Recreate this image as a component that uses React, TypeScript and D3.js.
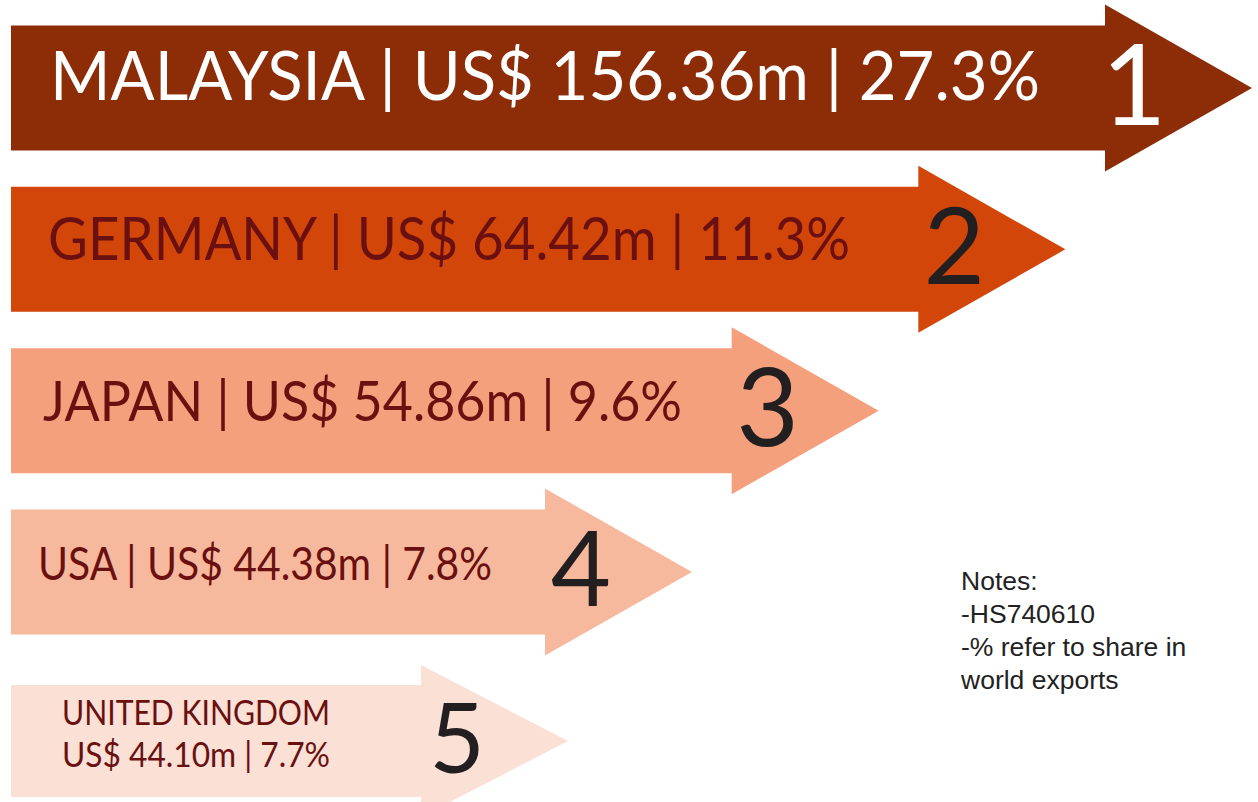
// Top export markets for HS740610 — ranked arrows, one per country.
import { useEffect } from "react";
import * as d3 from "d3";

const ranks = [1, 2, 3, 4, 5];
const countries = ["MALAYSIA", "GERMANY", "JAPAN", "USA", "UNITED KINGDOM"];
const valuesM = [156.36, 64.42, 54.86, 44.38, 44.1];
const shares = [27.3, 11.3, 9.6, 7.8, 7.7];
const fills = ["#8c2d08", "#d3460a", "#f5a07c", "#f7b99d", "#fbe0d6"];
const labelInk = ["#ffffff", "#6a1010", "#6a1010", "#6a1010", "#6a1010"];
const rankInk = ["#ffffff", "#231f20", "#231f20", "#231f20", "#231f20"];
const notes = ["Notes:", "-HS740610", "-% refer to share in", "world exports"];

const W = 1258, H = 802;
const FONT = "Lato, 'Open Sans', sans-serif";

export default function App() {
  useEffect(() => { document.body.style.margin = "0"; }, []);

  // layout scales keyed by rank
  const tipX = d3.scaleLinear().domain([1, 4, 5]).range([1252, 692, 568]);
  const midY = d3.scaleLinear().domain([1, 4, 5]).range([88, 572, 741]);
  const bodyHalf = d3.scaleLinear().domain([1, 4, 5]).range([62.5, 62.5, 56]).clamp(true);
  const headHalf = d3.scaleLinear().domain([1, 4, 5]).range([83.5, 83.5, 76]).clamp(true);
  const fontSize = d3.scaleLinear().domain([1, 2, 3, 4, 5]).range([67, 60, 56, 46, 35]);
  const textW = d3.scaleLinear().domain([1, 2, 3, 4, 5]).range([990, 802, 639, 454, 268]);
  const textX = d3.scaleLinear().domain([1, 2, 3, 4, 5]).range([50, 48, 43, 38, 62]);
  const rankSize = d3.scaleLinear().domain([1, 2, 3, 4, 5]).range([112, 106, 108, 104, 96]);
  const headLen = 147, x0 = 11;

  const arrow = (r: number) => {
    const t = tipX(r), c = midY(r), b = bodyHalf(r), h = headHalf(r), base = t - headLen;
    const p = d3.path();
    p.moveTo(x0, c - b);
    p.lineTo(base, c - b);
    p.lineTo(base, c - h);
    p.lineTo(t, c);
    p.lineTo(base, c + h);
    p.lineTo(base, c + b);
    p.lineTo(x0, c + b);
    p.closePath();
    return p.toString();
  };

  return (
    <svg width={W} height={H} style={{ display: "block", background: "#fff" }}>
      {ranks.map((r, i) => {
        const money = `US$ ${valuesM[i].toFixed(2)}m`;
        const share = `${shares[i].toFixed(1)}%`;
        const twoLine = countries[i].length > 10;
        const fs = fontSize(r);
        return (
          <g key={countries[i]}>
            <path d={arrow(r)} fill={fills[i]} />
            {twoLine ? (
              <>
                <text x={textX(r)} y={midY(r) - 16} fontFamily={FONT} fontSize={fs}
                      fill={labelInk[i]} textLength={textW(r)} lengthAdjust="spacingAndGlyphs">
                  {countries[i]}
                </text>
                <text x={textX(r)} y={midY(r) + 26} fontFamily={FONT} fontSize={fs}
                      fill={labelInk[i]} textLength={textW(r)} lengthAdjust="spacingAndGlyphs">
                  {`${money} | ${share}`}
                </text>
              </>
            ) : (
              <text x={textX(r)} y={midY(r) + fs * 0.18} fontFamily={FONT} fontSize={fs}
                    fill={labelInk[i]} textLength={textW(r)} lengthAdjust="spacingAndGlyphs">
                {`${countries[i]} | ${money} | ${share}`}
              </text>
            )}
            <text x={tipX(r) - (r === 1 ? 118 : 111)} y={midY(r) + rankSize(r) * 0.33}
                  textAnchor="middle" fontFamily={FONT} fontSize={rankSize(r)}
                  fill={rankInk[i]}>
              {r}
            </text>
          </g>
        );
      })}
      <g fontFamily="'Liberation Sans', Arial, sans-serif" fontSize={26.5} fill="#222">
        {notes.map((n, i) => (
          <text key={n} x={961} y={590 + i * 33}>{n}</text>
        ))}
      </g>
    </svg>
  );
}
